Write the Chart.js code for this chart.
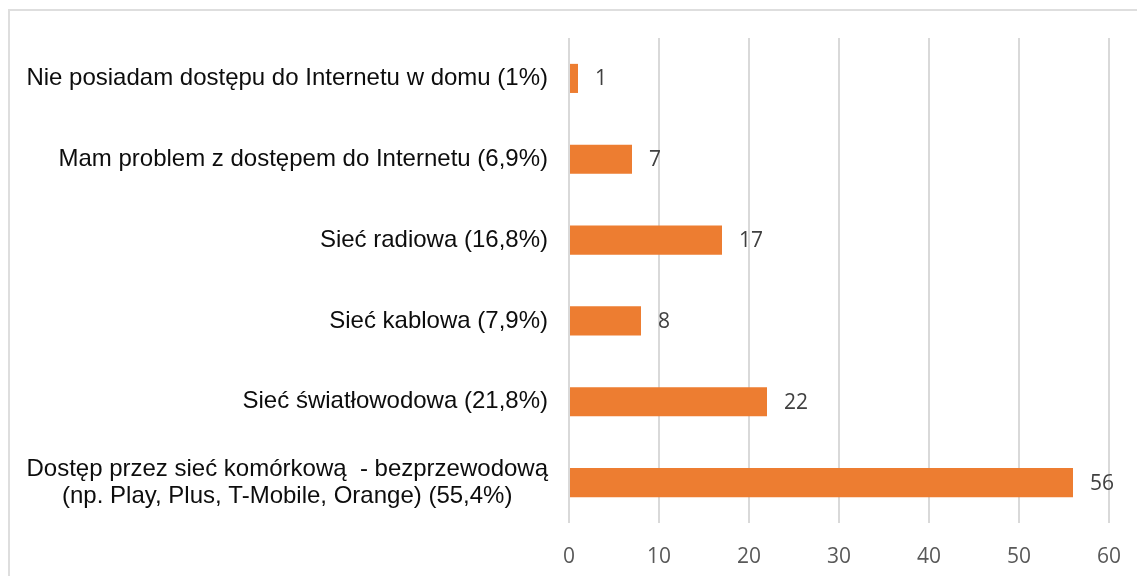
<!DOCTYPE html>
<html lang="pl">
<head>
<meta charset="utf-8">
<title>Dostęp do Internetu</title>
<script src="https://cdn.jsdelivr.net/npm/chart.js@4/dist/chart.umd.min.js"></script>
<style>
    html, body {
        margin: 0;
        padding: 0;
        background: #ffffff;
        overflow: hidden;
    }

    .chart-frame {
        position: absolute;
        left: 8px;
        top: 9px;
        width: 1160px;
        height: 600px;
        border: 2px solid #dedede;
        box-sizing: border-box;
    }

    .chart-wrap {
        position: absolute;
        left: 0;
        top: 0;
        width: 1137px;
        height: 576px;
    }
</style>
</head>
<body>
<div class="chart-frame"></div>
<div class="chart-wrap">
    <canvas id="access-chart" width="1137" height="576"></canvas>
</div>

<script>
// categories, top to bottom
const categories = [
    ['Nie posiadam dostępu do Internetu w domu (1%)'],
    ['Mam problem z dostępem do Internetu (6,9%)'],
    ['Sieć radiowa (16,8%)'],
    ['Sieć kablowa (7,9%)'],
    ['Sieć światłowodowa (21,8%)'],
    ['Dostęp przez sieć komórkową  - bezprzewodową', '(np. Play, Plus, T-Mobile, Orange) (55,4%)']
];

const respondents = [1, 7, 17, 8, 22, 56];

const axisMin = 0;
const axisMax = 60;
const axisStep = 10;

const barColor = '#ED7D31';
const gridColor = '#d9d9d9';

// category labels: single lines right aligned, wrapped lines centred inside a right aligned block
const categoryLabels = {
    id: 'categoryLabels',
    afterDraw(chart) {
        const ctx = chart.ctx;
        const yScale = chart.scales.y;
        const right = chart.chartArea.left - 21;
        const lineHeight = 27;

        ctx.save();
        ctx.font = '24px "Liberation Sans", Arial, sans-serif';
        ctx.fillStyle = '#0d0d0d';
        ctx.textBaseline = 'middle';

        categories.forEach((lines, index) => {
            const y = yScale.getPixelForTick(index);
            const blockWidth = Math.max(...lines.map(line => ctx.measureText(line).width));
            const startY = y - (lines.length - 1) * lineHeight / 2;

            lines.forEach((line, lineIndex) => {
                const lineY = startY + lineIndex * lineHeight;
                if (lines.length === 1) {
                    ctx.textAlign = 'right';
                    ctx.fillText(line, right, lineY);
                } else {
                    ctx.textAlign = 'center';
                    ctx.fillText(line, right - blockWidth / 2, lineY);
                }
            });
        });

        ctx.restore();
    }
};

// value labels just past the end of every bar
const valueLabels = {
    id: 'valueLabels',
    afterDatasetsDraw(chart) {
        const ctx = chart.ctx;
        const meta = chart.getDatasetMeta(0);

        ctx.save();
        ctx.font = '21px "Open Sans", sans-serif';
        ctx.fillStyle = '#404040';
        ctx.textAlign = 'left';
        ctx.textBaseline = 'middle';

        meta.data.forEach((bar, index) => {
            ctx.fillText(String(respondents[index]), bar.x + 17, bar.y + 1);
        });

        ctx.restore();
    }
};

document.addEventListener('DOMContentLoaded', () => {
    const canvas = document.getElementById('access-chart');
    if (!canvas || !window.Chart) {
        return;
    }

    new Chart(canvas, {
        type: 'bar',
        data: {
            labels: categories.map(lines => lines.join(' ')),
            datasets: [{
                data: respondents,
                backgroundColor: barColor,
                borderWidth: 0,
                barPercentage: 0.36,
                categoryPercentage: 1
            }]
        },
        options: {
            indexAxis: 'y',
            responsive: false,
            animation: false,
            layout: {
                padding: {
                    left: 569,
                    right: 28,
                    top: 38,
                    bottom: 0
                }
            },
            plugins: {
                legend: {
                    display: false
                },
                tooltip: {
                    enabled: false
                }
            },
            scales: {
                x: {
                    min: axisMin,
                    max: axisMax,
                    afterFit: scale => {
                        scale.height = 53;
                        scale.paddingLeft = 0;
                        scale.paddingRight = 0;
                    },
                    ticks: {
                        stepSize: axisStep,
                        color: '#595959',
                        padding: 21,
                        font: {
                            family: '"Open Sans", sans-serif',
                            size: 21
                        }
                    },
                    grid: {
                        color: gridColor,
                        lineWidth: 2,
                        drawTicks: false
                    },
                    border: {
                        display: false
                    }
                },
                y: {
                    display: false
                }
            }
        },
        plugins: [categoryLabels, valueLabels]
    });
});
</script>
</body>
</html>
